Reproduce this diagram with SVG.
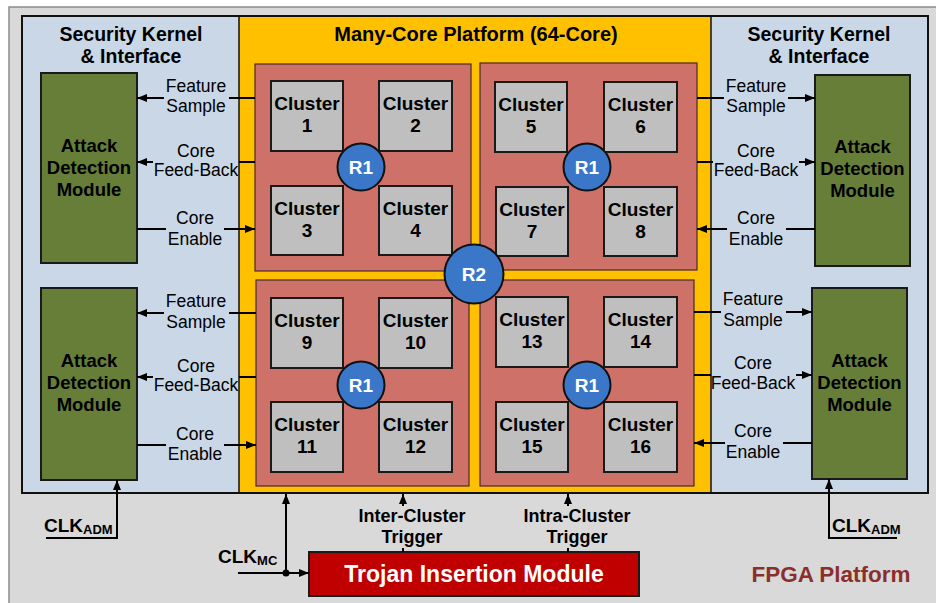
<svg xmlns="http://www.w3.org/2000/svg" width="936" height="603" viewBox="0 0 936 603">
<defs>
<marker id="ah" markerWidth="10" markerHeight="8" refX="10" refY="4" orient="auto" markerUnits="userSpaceOnUse">
<path d="M0,0 L10,4 L0,8 Z" fill="#000"/>
</marker>
<style>
.t{font-family:"Liberation Sans",Arial,sans-serif;fill:#000;text-anchor:middle}
.b{font-weight:bold}
.lbl{font-size:17.5px}
.cl{font-size:19px;font-weight:bold}
.clb{fill:#bfbfbf;stroke:#1a1a1a;stroke-width:2}
.quad{fill:#cd7169;stroke:#4a2a28;stroke-width:1.2}
.adm{fill:#677e38;stroke:#1a1a1a;stroke-width:2}
.rt{fill:#3a77c9;stroke:#111;stroke-width:2}
.rtx{font-family:"Liberation Sans",Arial,sans-serif;font-weight:bold;fill:#fff;text-anchor:middle;font-size:19px}
.ln{stroke:#000;stroke-width:2;fill:none}
.ar{stroke:#000;stroke-width:2;fill:none;marker-end:url(#ah)}
</style>
</defs>
<rect x="0" y="0" width="936" height="603" fill="#fff"/>
<rect x="9" y="7" width="935" height="605" fill="#d9d9d9" stroke="#8c8c8c" stroke-width="1.5"/>

<g id="security-left">
<rect x="22" y="16" width="217" height="477" fill="#c9d7e7"/>
<text class="t b" x="131" y="41" font-size="19.5px">Security Kernel</text>
<text class="t b" x="131" y="63" font-size="19.5px">&amp; Interface</text>
</g>
<g id="security-right">
<rect x="711" y="16" width="217" height="477" fill="#c9d7e7"/>
<text class="t b" x="819" y="41" font-size="19.5px">Security Kernel</text>
<text class="t b" x="819" y="63" font-size="19.5px">&amp; Interface</text>
</g>
<g id="manycore">
<rect x="239" y="16" width="472" height="477" fill="#ffc000"/>
<text class="t b" x="476" y="41" font-size="20px">Many-Core Platform (64-Core)</text>
</g>
<rect x="22" y="16" width="906" height="477" fill="none" stroke="#111" stroke-width="2"/>
<line x1="239" y1="16" x2="239" y2="493" stroke="#111" stroke-width="1.5"/>
<line x1="711" y1="16" x2="711" y2="493" stroke="#111" stroke-width="1.5"/>

<g id="quad-tl"><rect class="quad" x="255" y="64" width="216" height="207"/></g>
<g id="quad-tr"><rect class="quad" x="480" y="63" width="217" height="207"/></g>
<g id="quad-bl"><rect class="quad" x="256" y="280" width="213" height="206"/></g>
<g id="quad-br"><rect class="quad" x="480" y="280" width="214" height="206"/></g>

<g id="cluster1"><rect class="clb" x="271" y="81" width="72" height="70"/><text class="t cl" x="307" y="110">Cluster</text><text class="t cl" x="307" y="132">1</text></g>
<g id="cluster2"><rect class="clb" x="379" y="81" width="73" height="70"/><text class="t cl" x="415.5" y="110">Cluster</text><text class="t cl" x="415.5" y="132">2</text></g>
<g id="cluster3"><rect class="clb" x="271" y="186" width="72" height="69"/><text class="t cl" x="307" y="215">Cluster</text><text class="t cl" x="307" y="237">3</text></g>
<g id="cluster4"><rect class="clb" x="379" y="186" width="73" height="69"/><text class="t cl" x="415.5" y="215">Cluster</text><text class="t cl" x="415.5" y="237">4</text></g>
<g id="cluster5"><rect class="clb" x="495" y="82" width="72" height="70"/><text class="t cl" x="531" y="111">Cluster</text><text class="t cl" x="531" y="133">5</text></g>
<g id="cluster6"><rect class="clb" x="604" y="82" width="73" height="70"/><text class="t cl" x="640.5" y="111">Cluster</text><text class="t cl" x="640.5" y="133">6</text></g>
<g id="cluster7"><rect class="clb" x="496" y="187" width="72" height="69"/><text class="t cl" x="532" y="216">Cluster</text><text class="t cl" x="532" y="238">7</text></g>
<g id="cluster8"><rect class="clb" x="604" y="187" width="73" height="69"/><text class="t cl" x="640.5" y="216">Cluster</text><text class="t cl" x="640.5" y="238">8</text></g>
<g id="cluster9"><rect class="clb" x="271" y="298" width="72" height="70"/><text class="t cl" x="307" y="327">Cluster</text><text class="t cl" x="307" y="349">9</text></g>
<g id="cluster10"><rect class="clb" x="379" y="298" width="73" height="70"/><text class="t cl" x="415.5" y="327">Cluster</text><text class="t cl" x="415.5" y="349">10</text></g>
<g id="cluster11"><rect class="clb" x="271" y="402" width="72" height="70"/><text class="t cl" x="307" y="431">Cluster</text><text class="t cl" x="307" y="453">11</text></g>
<g id="cluster12"><rect class="clb" x="379" y="402" width="73" height="70"/><text class="t cl" x="415.5" y="431">Cluster</text><text class="t cl" x="415.5" y="453">12</text></g>
<g id="cluster13"><rect class="clb" x="496" y="297" width="72" height="70"/><text class="t cl" x="532" y="326">Cluster</text><text class="t cl" x="532" y="348">13</text></g>
<g id="cluster14"><rect class="clb" x="604" y="297" width="73" height="70"/><text class="t cl" x="640.5" y="326">Cluster</text><text class="t cl" x="640.5" y="348">14</text></g>
<g id="cluster15"><rect class="clb" x="496" y="402" width="72" height="70"/><text class="t cl" x="532" y="431">Cluster</text><text class="t cl" x="532" y="453">15</text></g>
<g id="cluster16"><rect class="clb" x="604" y="402" width="73" height="70"/><text class="t cl" x="640.5" y="431">Cluster</text><text class="t cl" x="640.5" y="453">16</text></g>

<g id="r1-tl"><circle class="rt" cx="361" cy="167" r="23.5"/><text class="rtx" x="361" y="174">R1</text></g>
<g id="r1-tr"><circle class="rt" cx="587" cy="167" r="23.5"/><text class="rtx" x="587" y="174">R1</text></g>
<g id="r1-bl"><circle class="rt" cx="361" cy="385" r="23.5"/><text class="rtx" x="361" y="392">R1</text></g>
<g id="r1-br"><circle class="rt" cx="587" cy="385" r="23.5"/><text class="rtx" x="587" y="392">R1</text></g>
<g id="r2"><circle class="rt" cx="474" cy="274" r="29.5"/><text class="rtx" x="474" y="281" font-size="20px">R2</text></g>

<g id="adm-tl"><rect class="adm" x="41" y="73" width="96" height="190"/><text class="t b" x="89" y="152" font-size="18.5px">Attack</text><text class="t b" x="89" y="174" font-size="18.5px">Detection</text><text class="t b" x="89" y="196" font-size="18.5px">Module</text></g>
<g id="adm-bl"><rect class="adm" x="41" y="288" width="96" height="192"/><text class="t b" x="89" y="367" font-size="18.5px">Attack</text><text class="t b" x="89" y="389" font-size="18.5px">Detection</text><text class="t b" x="89" y="411" font-size="18.5px">Module</text></g>
<g id="adm-tr"><rect class="adm" x="815" y="75" width="95" height="191"/><text class="t b" x="862.5" y="153" font-size="18.5px">Attack</text><text class="t b" x="862.5" y="175" font-size="18.5px">Detection</text><text class="t b" x="862.5" y="197" font-size="18.5px">Module</text></g>
<g id="adm-br"><rect class="adm" x="812" y="288" width="95" height="191"/><text class="t b" x="859.5" y="367" font-size="18.5px">Attack</text><text class="t b" x="859.5" y="389" font-size="18.5px">Detection</text><text class="t b" x="859.5" y="411" font-size="18.5px">Module</text></g>

<g id="trojan"><rect x="309" y="552" width="330" height="44" fill="#c00000" stroke="#1a1a1a" stroke-width="2"/><text class="t b" x="474" y="582" font-size="23px" style="fill:#fff">Trojan Insertion Module</text></g>

<g id="connectors">
<!-- left top -->
<line class="ln" x1="255" y1="98" x2="229" y2="98"/><line class="ar" x1="164" y1="98" x2="137" y2="98"/>
<line class="ln" x1="255" y1="162" x2="239" y2="162"/><line class="ar" x1="153" y1="162" x2="137" y2="162"/>
<line class="ln" x1="137" y1="229" x2="166" y2="229"/><line class="ar" x1="224" y1="229" x2="255" y2="229"/>
<!-- left bottom -->
<line class="ln" x1="256" y1="313" x2="229" y2="313"/><line class="ar" x1="164" y1="313" x2="137" y2="313"/>
<line class="ln" x1="256" y1="377" x2="239" y2="377"/><line class="ar" x1="153" y1="377" x2="137" y2="377"/>
<line class="ln" x1="137" y1="445" x2="166" y2="445"/><line class="ar" x1="224" y1="445" x2="256" y2="445"/>
<!-- right top -->
<line class="ln" x1="697" y1="98" x2="724" y2="98"/><line class="ar" x1="788" y1="98" x2="815" y2="98"/>
<line class="ln" x1="697" y1="162" x2="713" y2="162"/><line class="ar" x1="799" y1="162" x2="815" y2="162"/>
<line class="ln" x1="815" y1="229" x2="786" y2="229"/><line class="ar" x1="727" y1="229" x2="697" y2="229"/>
<!-- right bottom -->
<line class="ln" x1="694" y1="312" x2="721" y2="312"/><line class="ar" x1="786" y1="312" x2="812" y2="312"/>
<line class="ln" x1="694" y1="375" x2="711" y2="375"/><line class="ar" x1="796" y1="375" x2="812" y2="375"/>
<line class="ln" x1="812" y1="443" x2="783" y2="443"/><line class="ar" x1="725" y1="443" x2="694" y2="443"/>
<!-- clocks -->
<polyline class="ar" points="46,538 117,538 117,480"/>
<polyline class="ar" points="897,538 829,538 829,479"/>
<line class="ar" x1="286" y1="573" x2="286" y2="494"/>
<line class="ar" x1="238" y1="573" x2="309" y2="573"/>
<circle cx="286" cy="573" r="3.5" fill="#000"/>
<!-- triggers -->
<line class="ln" x1="403" y1="552" x2="403" y2="548"/><line class="ar" x1="403" y1="506" x2="403" y2="494"/>
<line class="ln" x1="568" y1="552" x2="568" y2="548"/><line class="ar" x1="568" y1="506" x2="568" y2="494"/>
</g>

<g id="labels">
<text class="t lbl" x="196" y="92">Feature</text><text class="t lbl" x="196" y="112">Sample</text>
<text class="t lbl" x="196" y="157">Core</text><text class="t lbl" x="196" y="176">Feed-Back</text>
<text class="t lbl" x="195" y="224">Core</text><text class="t lbl" x="195" y="245">Enable</text>
<text class="t lbl" x="196" y="307">Feature</text><text class="t lbl" x="196" y="328">Sample</text>
<text class="t lbl" x="196" y="372">Core</text><text class="t lbl" x="196" y="391">Feed-Back</text>
<text class="t lbl" x="195" y="440">Core</text><text class="t lbl" x="195" y="460">Enable</text>
<text class="t lbl" x="756" y="92">Feature</text><text class="t lbl" x="756" y="112">Sample</text>
<text class="t lbl" x="756" y="157">Core</text><text class="t lbl" x="756" y="176">Feed-Back</text>
<text class="t lbl" x="756" y="224">Core</text><text class="t lbl" x="756" y="245">Enable</text>
<text class="t lbl" x="753" y="305">Feature</text><text class="t lbl" x="753" y="326">Sample</text>
<text class="t lbl" x="753" y="369">Core</text><text class="t lbl" x="753" y="389">Feed-Back</text>
<text class="t lbl" x="753" y="437">Core</text><text class="t lbl" x="753" y="458">Enable</text>
<text class="t b" x="412" y="522" font-size="18px">Inter-Cluster</text><text class="t b" x="412" y="543" font-size="18px">Trigger</text>
<text class="t b" x="577" y="522" font-size="18px">Intra-Cluster</text><text class="t b" x="577" y="543" font-size="18px">Trigger</text>
<text class="t b" x="44" y="532" font-size="19px" style="text-anchor:start">CLK<tspan font-size="13px" dy="2">ADM</tspan></text>
<text class="t b" x="832" y="532" font-size="19px" style="text-anchor:start">CLK<tspan font-size="13px" dy="2">ADM</tspan></text>
<text class="t b" x="218" y="563" font-size="19px" style="text-anchor:start">CLK<tspan font-size="13px" dy="2">MC</tspan></text>
<text class="t b" x="831" y="582" font-size="22.5px" style="fill:#8c2f2b">FPGA Platform</text>
</g>
</svg>
